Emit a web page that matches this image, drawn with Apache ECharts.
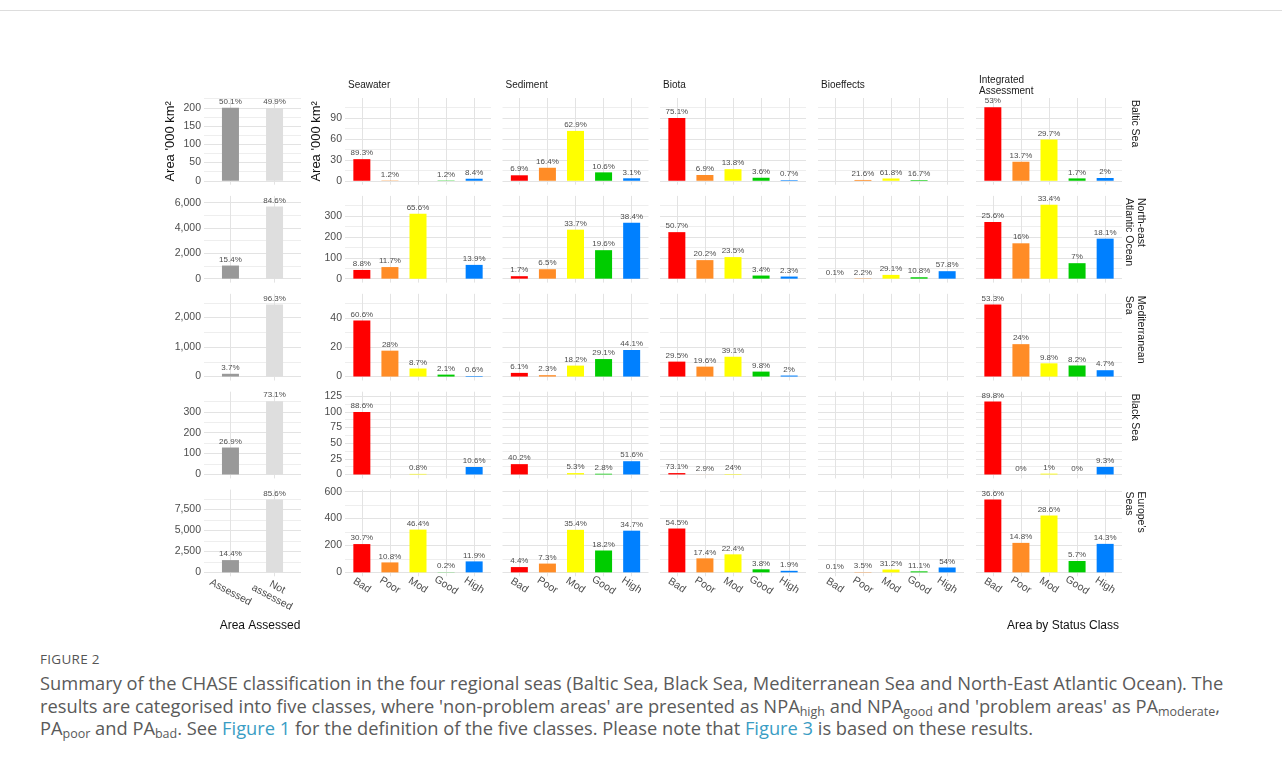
<!DOCTYPE html>
<html>
<head>
<meta charset="utf-8">
<script src="https://cdn.jsdelivr.net/npm/echarts@6/dist/echarts.min.js"></script>
<style>
  html, body { margin: 0; padding: 0; background: #ffffff; }
  body { width: 1282px; height: 763px; overflow: hidden; position: relative; }
  #rule { position: absolute; left: 0; top: 10px; width: 1282px; height: 1px; background: #dddddd; }
  #chart { position: absolute; left: 0; top: 0; width: 1282px; height: 645px; }
  #figno { position: absolute; left: 40px; top: 650px; font: 13.5px "Open Sans", "Noto Sans", sans-serif; color: #555555; letter-spacing: 0.3px; }
  #caption { position: absolute; left: 40px; top: 672px; font: 18.3px/22.6px "Open Sans", "Noto Sans", sans-serif; color: #5a5a5a; white-space: nowrap; }
  #caption sub { font-size: 12.5px; vertical-align: -3px; line-height: 0; }
  #caption .lnk { color: #3a9dc4; }
</style>
</head>
<body>
<div id="rule"></div>
<div id="chart"></div>
<div id="figno">FIGURE 2</div>
<div id="caption">Summary of the CHASE classification in the four regional seas (Baltic Sea, Black Sea, Mediterranean Sea and North-East Atlantic Ocean). The<br>results are categorised into five classes, where 'non-problem areas' are presented as NPA<sub>high</sub> and NPA<sub>good</sub> and 'problem areas' as PA<sub>moderate</sub>,<br>PA<sub>poor</sub> and PA<sub>bad</sub>. See <span class="lnk">Figure 1</span> for the definition of the five classes. Please note that <span class="lnk">Figure 3</span> is based on these results.</div>
<script>
// ---- categories ----
const regions = ['Baltic Sea', 'North-east\nAtlantic Ocean', 'Mediterranean\nSea', 'Black Sea', "Europe's\nSeas"];
const components = ['Seawater', 'Sediment', 'Biota', 'Bioeffects', 'Integrated\nAssessment'];
const statusClasses = ['Bad', 'Poor', 'Mod', 'Good', 'High'];
const assessedClasses = ['Assessed', 'Not\nassessed'];

// ---- total sea area per region ('000 km2) and share assessed / not assessed (%) ----
const regionArea = [399, 6720, 2535, 480, 10134];
const assessedShare = [
  [50.1, 49.9],
  [15.4, 84.6],
  [3.7, 96.3],
  [26.9, 73.1],
  [14.4, 85.6]
];

// ---- area covered by each component per region ('000 km2): Seawater, Sediment, Biota, Bioeffects, Integrated ----
const componentArea = [
  [34.7, 113.6, 120, 5.3, 199],
  [475, 697, 440, 62, 1060],
  [63, 41, 34.5, 0, 92],
  [112.5, 41, 3, 0, 130],
  [685, 893, 598, 67, 1481]
];

// ---- share of each status class, % (Bad, Poor, Mod, Good, High); null = class absent ----
const balticShare = [
  [89.3, 1.2, null, 1.2, 8.4],
  [6.9, 16.4, 62.9, 10.6, 3.1],
  [75.1, 6.9, 13.8, 3.6, 0.7],
  [null, 21.6, 61.8, 16.7, null],
  [53, 13.7, 29.7, 1.7, 2]
];
const northEastAtlanticShare = [
  [8.8, 11.7, 65.6, null, 13.9],
  [1.7, 6.5, 33.7, 19.6, 38.4],
  [50.7, 20.2, 23.5, 3.4, 2.3],
  [0.1, 2.2, 29.1, 10.8, 57.8],
  [25.6, 16, 33.4, 7, 18.1]
];
const mediterraneanShare = [
  [60.6, 28, 8.7, 2.1, 0.6],
  [6.1, 2.3, 18.2, 29.1, 44.1],
  [29.5, 19.6, 39.1, 9.8, 2],
  [null, null, null, null, null],
  [53.3, 24, 9.8, 8.2, 4.7]
];
const blackSeaShare = [
  [88.6, null, 0.8, null, 10.6],
  [40.2, null, 5.3, 2.8, 51.6],
  [73.1, 2.9, 24, null, null],
  [null, null, null, null, null],
  [89.8, 0, 1, 0, 9.3]
];
const europeShare = [
  [30.7, 10.8, 46.4, 0.2, 11.9],
  [4.4, 7.3, 35.4, 18.2, 34.7],
  [54.5, 17.4, 22.4, 3.8, 1.9],
  [0.1, 3.5, 31.2, 11.1, 54],
  [36.6, 14.8, 28.6, 5.7, 14.3]
];
const statusShare = [balticShare, northEastAtlanticShare, mediterraneanShare, blackSeaShare, europeShare];

// ---- y-axis tick labels and upper data limits per row ----
const mainTicks = [[0, 30, 60, 90], [0, 100, 200, 300], [0, 20, 40], [0, 25, 50, 75, 100, 125], [0, 200, 400, 600]];
const leftTicks = [[0, 50, 100, 150, 200], [0, 2000, 4000, 6000], [0, 1000, 2000], [0, 100, 200, 300], [0, 2500, 5000, 7500]];
const mainLimit = [113, 378, 53.7, 125.9, 586];
const leftLimit = [216, 6220, 2672, 377.7, 9380];

// ---- styling ----
const statusColors = ['#ff0000', '#ff8c26', '#ffff00', '#00cc00', '#0080ff'];
const assessedColors = ['#999999', '#dedede'];
const FONT = '"Liberation Sans", Arial, sans-serif';
const TICK_COLOR = '#4d4d4d';
const GRID_MAJOR = '#e3e3e3';
const GRID_MINOR = '#eeeeee';

// panel geometry
const rowTop = r => 98 + r * 97.9;
const ROW_H = 86.7;
const mainLeft = [345, 502.5, 660, 818, 976];
const MAIN_W = 146;
const LEFT_X = 204;
const LEFT_W = 97;

const grids = [], xAxes = [], yAxes = [], series = [], graphics = [];

function gridLines(ticks, lo, hi, nCat) {
  const step = ticks[1] - ticks[0];
  const lines = [];
  const solid = color => ({ color: color, width: 1, type: 'solid' });
  for (let v = ticks[0] - step / 2; v <= hi; v += step) {
    if (v >= lo) lines.push({ yAxis: v, lineStyle: solid(GRID_MINOR) });
  }
  ticks.forEach(v => lines.push({ yAxis: v, lineStyle: solid(GRID_MAJOR) }));
  for (let i = 0; i < nCat; i++) lines.push({ xAxis: i, lineStyle: solid(GRID_MAJOR) });
  return lines;
}

function addPanel(opts) {
  const gi = grids.length;
  grids.push({ left: opts.left, top: opts.top, width: opts.width, height: ROW_H, containLabel: false });
  const n = opts.cats.length;
  xAxes.push({
    type: 'value', gridIndex: gi, min: -0.6, max: n - 0.4,
    axisLine: { show: false, onZero: false }, axisTick: { show: false }, splitLine: { show: false },
    axisLabel: opts.showX ? {
      show: true, customValues: opts.cats.map((_, i) => i), formatter: v => opts.cats[Math.round(v)],
      rotate: opts.xRotate, align: 'center', verticalAlign: 'middle', margin: opts.xMargin,
      fontSize: 10.5, color: TICK_COLOR, fontFamily: FONT, lineHeight: 11.5
    } : { show: false }
  });
  const lo = -0.05 * opts.limit, hi = 1.05 * opts.limit;
  yAxes.push({
    type: 'value', gridIndex: gi, min: lo, max: hi,
    axisLine: { show: false, onZero: false }, axisTick: { show: false }, splitLine: { show: false },
    axisLabel: opts.showY ? {
      show: true, customValues: opts.ticks, formatter: v => Math.round(v).toLocaleString('en-US'),
      fontSize: opts.yFont, color: TICK_COLOR, fontFamily: FONT, margin: 3
    } : { show: false },
    name: opts.yName || '', nameLocation: 'middle', nameGap: opts.nameGap || 0,
    nameTextStyle: { fontSize: 13, color: '#111111', fontFamily: FONT }
  });
  // background grid
  series.push({
    type: 'line', xAxisIndex: gi, yAxisIndex: gi, data: [], z: 1, silent: true,
    markLine: { z: 1, silent: true, symbol: ['none', 'none'], label: { show: false }, animation: false,
      emphasis: { disabled: true },
      data: gridLines(opts.ticks, lo, hi, n) }
  });
  const items = [];
  opts.shares.forEach((s, i) => {
    if (s === null) return;
    items.push({ value: [i, opts.total * s / 100], txt: s + '%', itemStyle: { color: opts.colors[i] } });
  });
  if (items.length) {
    series.push({
      type: 'bar', xAxisIndex: gi, yAxisIndex: gi, data: items, barWidth: 17, z: 3, silent: true, clip: false,
      label: { show: true, position: 'top', distance: 2, fontSize: 8, color: TICK_COLOR, fontFamily: FONT,
        formatter: p => p.data.txt }
    });
  }
}

for (let r = 0; r < 5; r++) {
  const top = rowTop(r);
  const bottomRow = r === 4;
  // area assessed
  addPanel({
    left: LEFT_X, top, width: LEFT_W, cats: assessedClasses, colors: assessedColors,
    shares: assessedShare[r], total: regionArea[r], ticks: leftTicks[r], limit: leftLimit[r],
    showX: bottomRow, xMargin: 16, xRotate: -28, showY: true, yFont: 10.5,
    yName: r === 0 ? "Area '000 km²" : '', nameGap: 27
  });
  // area by status class for each component
  for (let c = 0; c < 5; c++) {
    addPanel({
      left: mainLeft[c], top, width: MAIN_W, cats: statusClasses, colors: statusColors,
      shares: statusShare[r][c], total: componentArea[r][c], ticks: mainTicks[r], limit: mainLimit[r],
      showX: bottomRow, xMargin: 9, xRotate: -33, showY: c === 0, yFont: 10.5,
      yName: (r === 0 && c === 0) ? "Area '000 km²" : '', nameGap: 22
    });
  }
  // region strip on the right
  graphics.push({
    type: 'text', x: 1135, y: top + 2, rotation: -Math.PI / 2, silent: true,
    style: { text: regions[r], fontSize: 10.5, fontFamily: FONT, fill: '#1a1a1a',
      align: 'left', verticalAlign: 'middle', lineHeight: 11.5 }
  });
}

// component strips above the first row
components.forEach((name, c) => {
  graphics.push({
    type: 'text', x: mainLeft[c] + 3, y: 85.5, silent: true,
    style: { text: name, fontSize: 10, fontFamily: FONT, fill: '#1a1a1a',
      align: 'left', verticalAlign: 'middle', lineHeight: 11.5 }
  });
});

// bottom titles
graphics.push({
  type: 'text', x: 260, y: 626, silent: true,
  style: { text: 'Area Assessed', fontSize: 12, fontFamily: FONT, fill: '#111111', align: 'center', verticalAlign: 'middle' }
});
graphics.push({
  type: 'text', x: 1063, y: 626, silent: true,
  style: { text: 'Area by Status Class', fontSize: 12, fontFamily: FONT, fill: '#111111', align: 'center', verticalAlign: 'middle' }
});

const chart = echarts.init(document.getElementById('chart'), null, { renderer: 'canvas' });
chart.setOption({
  animation: false,
  textStyle: { fontFamily: FONT },
  grid: grids,
  xAxis: xAxes,
  yAxis: yAxes,
  series: series,
  graphic: graphics
});
</script>
</body>
</html>
